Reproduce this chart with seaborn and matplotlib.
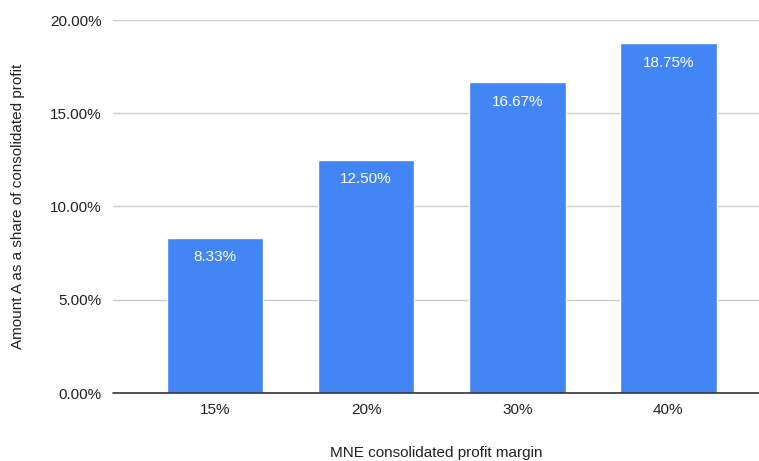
import matplotlib
matplotlib.use("Agg")
import matplotlib.pyplot as plt
import seaborn as sns
import pandas as pd
from matplotlib.ticker import FuncFormatter

categories = ["15%", "20%", "30%", "40%"]
values = [8.33, 12.50, 16.67, 18.75]
bar_labels = ["8.33%", "12.50%", "16.67%", "18.75%"]

df = pd.DataFrame({"margin": categories, "share": values})

sns.set_theme(style="white")
plt.rcParams['font.family'] = ['Liberation Sans', 'DejaVu Sans']

fig = plt.figure(figsize=(7.59, 4.61), dpi=100)
ax = fig.add_axes([113/759, 68/461, (759-113)/759, 373/461])

sns.barplot(data=df, x="margin", y="share", color="#4285F4", width=0.64,
            saturation=1, ax=ax, zorder=3)

ax.set_ylim(0, 20)
ax.set_xlim(-0.675, 3.6)
ax.set_yticks([0, 5, 10, 15, 20])
ax.yaxis.set_major_formatter(FuncFormatter(lambda v, p: f"{v:.2f}%"))
ax.grid(axis="y", color="#cccccc", linewidth=1, zorder=0)
ax.axhline(0, color="#333333", linewidth=1.2, zorder=4, clip_on=False)
for s in ax.spines.values():
    s.set_visible(False)
ax.tick_params(axis="both", length=0, labelsize=11, colors="#222222")
ax.tick_params(axis="y", pad=8)
ax.tick_params(axis="x", pad=7)

for i, (v, lab) in enumerate(zip(values, bar_labels)):
    ax.text(i, v - 1.05, lab, ha="center", va="center", color="white", fontsize=11, zorder=5)

ax.set_xlabel("MNE consolidated profit margin", fontsize=11, color="#222222", labelpad=21)
ax.set_ylabel("Amount A as a share of consolidated profit", fontsize=11, color="#222222", labelpad=18)

fig.savefig("out.png", dpi=100)
